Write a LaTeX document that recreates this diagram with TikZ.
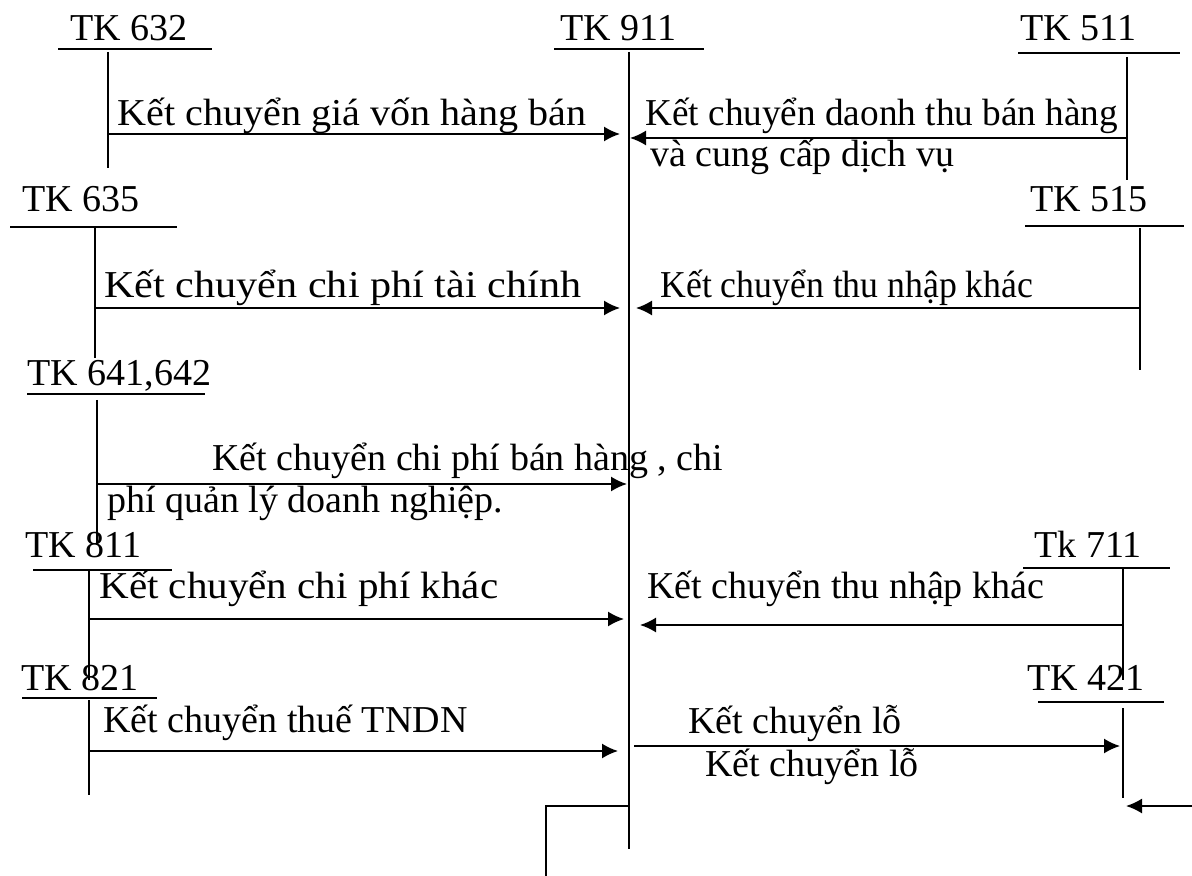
\documentclass[tikz,border=0pt]{standalone}
\usepackage{fontspec}
\setmainfont{Liberation Serif}
\usetikzlibrary{arrows.meta}
\newcommand{\widen}[2]{\scalebox{#1}[1]{#2}}
\begin{document}
\begin{tikzpicture}[x=0.5pt,y=-0.5pt,
  lbl/.style={anchor=base west, inner sep=0pt, font=\fontsize{19}{23}\selectfont},
  tline/.style={line width=0.6pt},
  flow/.style={line width=0.85pt, -{Latex[length=8pt,width=7.5pt]}},
]
\useasboundingbox (0,0) rectangle (1192,876);

% ---- account names ----
\node[lbl] (tk632) at (70,41)  {TK 632};
\node[lbl] (tk911) at (560,41) {TK 911};
\node[lbl] (tk511) at (1020,41) {TK 511};
\node[lbl] (tk635) at (22,212) {TK 635};
\node[lbl] (tk515) at (1030,212) {TK 515};
\node[lbl] (tk641) at (27,386) {TK 641,642};
\node[lbl] (tk811) at (25,557) {TK 811};
\node[lbl] (tk711) at (1034,557) {Tk 711};
\node[lbl] (tk821) at (21,690) {TK 821};
\node[lbl] (tk421) at (1027,690) {TK 421};

% ---- T-account lines ----
\draw[tline] (58,49) -- (212,49)   (108,52) -- (108,168);     % 632
\draw[tline] (554,49) -- (704,49)  (629,52) -- (629,849);     % 911
\draw[tline] (1018,53) -- (1180,53) (1127,57) -- (1127,180);  % 511
\draw[tline] (10,227) -- (177,227) (95,227) -- (95,358);      % 635
\draw[tline] (1025,226) -- (1184,226) (1140,228) -- (1140,370); % 515
\draw[tline] (27,394) -- (205,394) (97,400) -- (97,545);      % 641,642
\draw[tline] (33,570) -- (172,570) (89,570) -- (89,680);      % 811
\draw[tline] (1023,568) -- (1170,568) (1123,568) -- (1123,680); % 711
\draw[tline] (22,698) -- (157,698) (89,700) -- (89,795);      % 821
\draw[tline] (1038,702) -- (1164,702) (1123,708) -- (1123,798); % 421
\draw[tline] (629,806) -- (546,806) -- (546,876);             % bracket under 911

% ---- connector end points ----
\coordinate (s1) at (108,134);  \coordinate (e1) at (620,134);
\coordinate (s2) at (1127,138); \coordinate (e2) at (630,138);
\coordinate (s3) at (95,308);   \coordinate (e3) at (620,308);
\coordinate (s4) at (1140,308); \coordinate (e4) at (636,308);
\coordinate (s5) at (97,484);   \coordinate (e5) at (627,484);
\coordinate (s6) at (89,619);   \coordinate (e6) at (624,619);
\coordinate (s7) at (1123,625); \coordinate (e7) at (640,625);
\coordinate (s8) at (89,751);   \coordinate (e8) at (618,751);
\coordinate (s9) at (634,746);  \coordinate (e9) at (1120,746);
\coordinate (s10) at (1192,806); \coordinate (e10) at (1126,806);

\foreach \i in {1,...,10} \draw[flow] (s\i) -- (e\i);

% ---- entry labels ----
\node[lbl] (l1) at (117,126) {\widen{1.056}{Kết chuyển giá vốn hàng bán}};
\node[lbl] (l2a) at (645,126) {\widen{0.98}{Kết chuyển daonh thu bán hàng}};
\node[lbl] (l2b) at (650,167) {và cung cấp dịch vụ};
\node[lbl] (l3) at (104,298) {\widen{1.11}{Kết chuyển chi phí tài chính}};
\node[lbl] (l4) at (660,298) {\widen{0.94}{Kết chuyển thu nhập khác}};
\node[lbl] (l5a) at (212,470) {Kết chuyển chi phí bán hàng , chi};
\node[lbl] (l5b) at (107,512) {phí quản lý doanh nghiệp.};
\node[lbl] (l6) at (99,598) {\widen{1.08}{Kết chuyển chi phí khác}};
\node[lbl] (l7) at (647,598) {Kết chuyển thu nhập khác};
\node[lbl] (l8) at (103,732) {Kết chuyển thuế TNDN};
\node[lbl] (l9a) at (688,733) {Kết chuyển lỗ};
\node[lbl] (l9b) at (705,776) {Kết chuyển lỗ};
\end{tikzpicture}
\end{document}
